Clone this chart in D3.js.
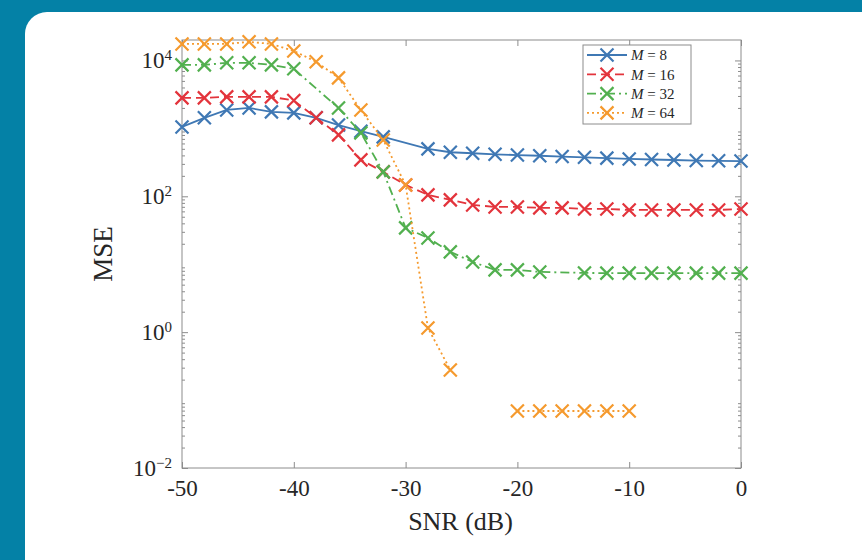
<!DOCTYPE html>
<html><head><meta charset="utf-8">
<script src="https://cdn.jsdelivr.net/npm/d3@7"></script>
<style>html,body{margin:0;padding:0;background:#0481a6;}svg{display:block;}</style>
</head><body>
<svg id="c" width="862" height="560"></svg>
<script>
// ---- data ----
const xTicks = [-50, -40, -30, -20, -10, 0];
const yTickExps = [-2, 0, 2, 4];
const seriesNames = ["M = 8", "M = 16", "M = 32", "M = 64"];

const m8X = [-50,-48,-46,-44,-42,-40,-38,-36,-34,-32,-28,-26,-24,-22,-20,-18,-16,-14,-12,-10,-8,-6,-4,-2,0];
const m8Y = [1050,1430,1870,2000,1750,1690,1430,1120,910,750,499,445,430,415,405,395,385,375,365,355,348,342,336,333,330];

const m16X = [-50,-48,-46,-44,-42,-40,-38,-36,-34,-32,-30,-28,-26,-24,-22,-20,-18,-16,-14,-12,-10,-8,-6,-4,-2,0];
const m16Y = [2810,2810,2910,2910,2910,2570,1430,802,344,229,147,105,88.5,74.7,69.8,69.8,67.5,67.5,65.2,65.2,63,63,63,63,63,65.2];

const m32X = [-50,-48,-46,-44,-42,-40,-36,-34,-32,-30,-28,-26,-24,-22,-20,-18,-14,-12,-10,-8,-6,-4,-2,0];
const m32Y = [8610,8610,9220,9220,8610,7530,1990,859,229,34.3,24.4,15.2,10.8,8.25,8.25,7.7,7.45,7.4,7.4,7.4,7.4,7.4,7.4,7.4];

const m64X = [-50,-48,-46,-44,-42,-40,-38,-36,-34,-32,-30,-28,-26,-24,-22,-20,-18,-16,-14,-12,-10,-8,-6,-4,-2,0];
const m64Y = [17500,17500,17500,18800,17500,13800,9550,5540,1860,676,147,1.15,0.278,null,null,0.069,0.069,0.069,0.069,0.069,0.069,null,null,null,null,null];

const colors = ["#3f78b4", "#e3343c", "#52b04f", "#f59a2e"];
const dashes = [null, "9,5", "9,4,2,4", "2,3"];

// ---- layout ----
const svg = d3.select("#c");
const W = 862, H = 560;
const L = 182, R = 741, T = 40, B = 468;
const serif = "'Liberation Serif','Times New Roman',serif";

svg.append("rect").attr("width", W).attr("height", H).attr("fill", "#0481a6");
svg.append("rect").attr("x", 25).attr("y", 12).attr("width", 900).attr("height", 575)
  .attr("rx", 22).attr("fill", "#ffffff");

const x = d3.scaleLinear().domain([-50, 0]).range([L, R]);
const y = d3.scaleLog().domain([1e-2, 2e4]).range([B, T]);

const axisColor = "#8c8c8c", textColor = "#262626";

// minor ticks
const minor = [];
for (let k = -2; k <= 4; k++) for (let m = 2; m <= 9; m++) { const v = m * Math.pow(10, k); if (v < 2e4) minor.push(v); }
const majorY = yTickExps.map(e => Math.pow(10, e));

function styleAxis(g) {
  g.select(".domain").remove();
  g.selectAll(".tick line").attr("stroke", axisColor).attr("stroke-width", 1);
}

svg.append("g").attr("transform", `translate(${L},0)`)
  .call(d3.axisLeft(y).tickValues(minor).tickFormat("").tickSize(-3)).call(styleAxis);
svg.append("g").attr("transform", `translate(${R},0)`)
  .call(d3.axisRight(y).tickValues(minor).tickFormat("").tickSize(-3)).call(styleAxis);
svg.append("g").attr("transform", `translate(${R},0)`)
  .call(d3.axisRight(y).tickValues(majorY).tickFormat("").tickSize(-6)).call(styleAxis);

const yAx = svg.append("g").attr("transform", `translate(${L},0)`)
  .call(d3.axisLeft(y).tickValues(majorY).tickSize(-6).tickPadding(10).tickFormat(""))
  .call(styleAxis);
yAx.selectAll(".tick").each(function(d) {
  const e = Math.round(Math.log10(d));
  const t = d3.select(this).append("text").attr("x", -10).attr("dy", "0.32em")
    .attr("text-anchor", "end").attr("fill", textColor)
    .style("font-family", serif).style("font-size", "23px");
  t.append("tspan").text("10");
  t.append("tspan").attr("dy", "-0.55em").style("font-size", "15px").text(e < 0 ? "\u2212" + (-e) : String(e));
});

const xAx = svg.append("g").attr("transform", `translate(0,${B})`)
  .call(d3.axisBottom(x).tickValues(xTicks).tickSize(-6).tickPadding(12).tickFormat(d => String(d)))
  .call(styleAxis);
xAx.selectAll("text").attr("fill", textColor).style("font-family", serif).style("font-size", "23px");
svg.append("g").attr("transform", `translate(0,${T})`)
  .call(d3.axisTop(x).tickValues(xTicks).tickSize(-6).tickFormat("")).call(styleAxis);

svg.append("rect").attr("x", L).attr("y", T).attr("width", R - L).attr("height", B - T)
  .attr("fill", "none").attr("stroke", axisColor).attr("stroke-width", 1);

// labels
svg.append("text").attr("x", (L + R) / 2 - 1).attr("y", 530).attr("text-anchor", "middle")
  .attr("fill", textColor).style("font-family", serif).style("font-size", "26px").text("SNR (dB)");
svg.append("text").attr("transform", `translate(112,${(T + B) / 2}) rotate(-90)`).attr("text-anchor", "middle")
  .attr("fill", textColor).style("font-family", serif).style("font-size", "27px").text("MSE");

// series
const allX = [m8X, m16X, m32X, m64X];
const allY = [m8Y, m16Y, m32Y, m64Y];
const line = d3.line().defined(d => d[1] != null).x(d => x(d[0])).y(d => y(d[1]));
const ms = 6.5;
function xMarker(g, cx, cy, col) {
  g.append("path").attr("d", `M${cx - ms},${cy - ms}L${cx + ms},${cy + ms}M${cx - ms},${cy + ms}L${cx + ms},${cy - ms}`)
    .attr("stroke", col).attr("stroke-width", 2.2).attr("fill", "none");
}
allX.forEach((xs, i) => {
  const pts = xs.map((v, j) => [v, allY[i][j]]);
  const g = svg.append("g");
  g.append("path").datum(pts).attr("d", line).attr("fill", "none").attr("stroke", colors[i])
    .attr("stroke-width", 1.8).attr("stroke-dasharray", dashes[i]);
  pts.filter(p => p[1] != null).forEach(p => xMarker(g, x(p[0]), y(p[1]), colors[i]));
});

// legend
const lg = svg.append("g");
lg.append("rect").attr("x", 583).attr("y", 45).attr("width", 108).attr("height", 79)
  .attr("fill", "#fff").attr("stroke", axisColor).attr("stroke-width", 1);
seriesNames.forEach((name, i) => {
  const yy = 55 + i * 19.3;
  lg.append("line").attr("x1", 587).attr("x2", 627).attr("y1", yy).attr("y2", yy)
    .attr("stroke", colors[i]).attr("stroke-width", 1.8).attr("stroke-dasharray", dashes[i]);
  xMarker(lg, 607, yy, colors[i]);
  const t = lg.append("text").attr("x", 631).attr("y", yy).attr("dy", "0.35em").attr("fill", textColor)
    .style("font-family", serif).style("font-size", "15px");
  const parts = name.split(" = ");
  t.append("tspan").style("font-style", "italic").text(parts[0]);
  t.append("tspan").text(" = " + parts[1]);
});
</script>
</body></html>
